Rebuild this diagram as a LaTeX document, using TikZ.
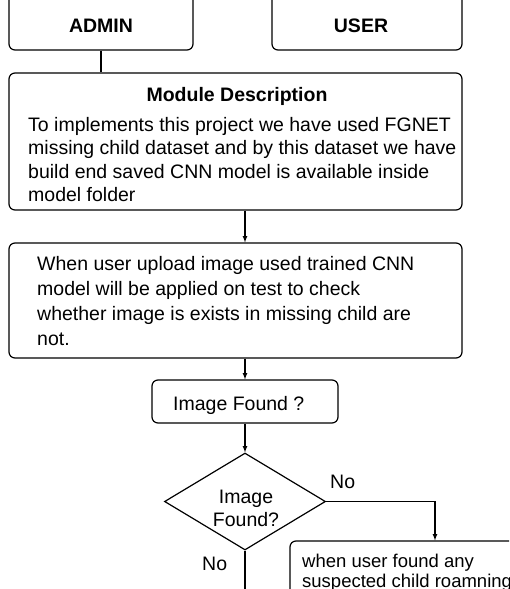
\documentclass[tikz,border=0pt]{standalone}
\usepackage{fontspec}
\setmainfont{Liberation Sans}
\usetikzlibrary{positioning}
\usetikzlibrary{shapes}
\usetikzlibrary{arrows}
\tikzset{
  flow_box/.style={rectangle, draw, rounded corners = 6pt, line width = 1.2pt, inner sep = 0},
  flow_decision/.style={diamond, draw, line width = 1.2pt, inner sep = 0, minimum width = 161pt, minimum height = 97pt},
  arrow_down/.style={-latex, line width = 1.2pt, color = black},
  line_plain/.style={line width = 1.2pt, color = black},
  box_text/.style={draw = none, inner sep = 0, anchor = base west, font = \fontsize{19.5}{23.5}\selectfont},
  box_text_small/.style={draw = none, inner sep = 0, anchor = base west, font = \fontsize{18.5}{22}\selectfont},
  box_center/.style={draw = none, inner sep = 0, anchor = base, font = \fontsize{19.5}{23.5}\selectfont},
  box_title/.style={draw = none, inner sep = 0, anchor = base, font = \bfseries\fontsize{19.5}{23.5}\selectfont}}

\begin{document}
\begin{tikzpicture}[x = 1pt, y = -1pt]

\clip (0,0) rectangle (509,589);
\fill[white] (0,0) rectangle (509,589);

%%% boxes
\node[flow_box, minimum width = 184pt, minimum height = 70pt] at (101,15) (admin) {};
\node[flow_box, minimum width = 190pt, minimum height = 70pt] at (367,15) (user) {};
\node[flow_box, minimum width = 453pt, minimum height = 137pt] at (235.5,141.5) (module) {};
\node[flow_box, minimum width = 453pt, minimum height = 115pt] at (235.5,300.5) (upload) {};
\node[flow_box, minimum width = 186pt, minimum height = 43pt] at (245,401.5) (found) {};
\node[flow_decision] at (245,501.5) (decide) {};
\node[flow_box, minimum width = 290pt, minimum height = 110pt] at (435,596) (alert) {};
\coordinate (exit) at (245,600);

%%% connectors
\draw[line_plain] (admin.south) -- (admin.south |- module.north);
\draw[arrow_down] (module.south -| found.north) -- (upload.north -| found.north);
\draw[arrow_down] (upload.south -| found.north) -- (found.north);
\draw[arrow_down] (found.south) -- (decide.north);
\draw[arrow_down] (decide.east) -| (alert.north);
\draw[line_plain] (decide.south) -- (exit);

%%% top boxes
\node[box_title] at (101,32) {ADMIN};
\node[box_title] at (361,32) {USER};

%%% module description
\node[box_title] at (237,101.5) {Module Description};
\node[box_text] at (28,131) {To implements this project we have used FGNET};
\node[box_text] at (28,154.5) {missing child dataset and by this dataset we have};
\node[box_text] at (28,178) {build end saved CNN model is available inside};
\node[box_text] at (28,201) {model folder};

%%% upload text
\node[box_text] at (37,270) {When user upload image used trained CNN};
\node[box_text] at (37,295) {model will be applied on test to check};
\node[box_text] at (37,320) {whether image is exists in missing child are};
\node[box_text] at (37,345) {not.};

%%% check
\node[box_text] at (173,410) {Image Found ?};
\node[box_center] at (246,503) {Image};
\node[box_center] at (246,526) {Found?};
\node[box_text] at (330,488) {No};
\node[box_text] at (202,570) {No};

%%% bottom box
\node[box_text_small] at (302,567) {when user found any};
\node[box_text_small] at (302,587) {suspected child roamning};

\end{tikzpicture}
\end{document}
